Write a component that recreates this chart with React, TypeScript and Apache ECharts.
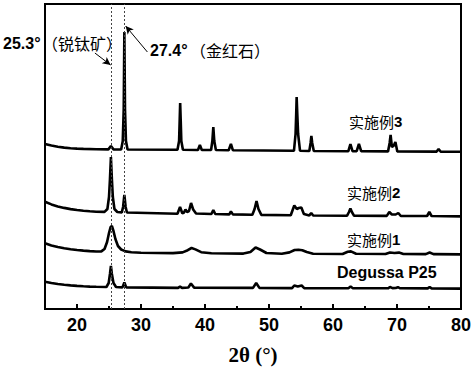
import React, { useEffect, useRef } from "react";
import * as echarts from "echarts";

const xMajorTicks = [20, 30, 40, 50, 60, 70, 80];
const xMinorTicks = [15, 25, 35, 45, 55, 65, 75];
const refLines = [25.3, 27.4];

// 实施例3
const sample3: number[][] = [
  [15, 165], [16, 163.5], [17, 162.3], [18, 161.4], [19, 160.8], [20, 160.4], [21, 160.1], [23, 159.8],
  [24.9, 159.6], [25.3, 163], [25.7, 159.6], [26.9, 159.5], [27.15, 168], [27.3, 200], [27.4, 277], [27.5, 200],
  [27.65, 168], [27.9, 159.5], [35.7, 159.2], [35.95, 168], [36.05, 190], [36.12, 206], [36.2, 190], [36.3, 168],
  [36.55, 159.2], [38.9, 159], [39.2, 164], [39.5, 159], [40.95, 159], [41.15, 168], [41.3, 182], [41.45, 168],
  [41.7, 159], [43.7, 158.8], [44.05, 165], [44.35, 158.8], [53.9, 158.2], [54.15, 175], [54.25, 195], [54.32, 212],
  [54.42, 195], [54.55, 175], [54.85, 158.2], [56.3, 158], [56.5, 166], [56.62, 173], [56.75, 166], [57.0, 158],
  [62.4, 157.8], [62.72, 165], [63.05, 157.8], [63.7, 157.8], [64.05, 165], [64.4, 157.8], [68.6, 157.6], [68.85, 166],
  [69.0, 174], [69.2, 162], [69.45, 163], [69.75, 167], [70.05, 157.6], [76.2, 157.4], [76.5, 160], [76.8, 157.4],
  [80, 157.2],
];

// 实施例2
const sample2: number[][] = [
  [15, 107.3], [16, 104.6], [17, 102.6], [18, 101.1], [19, 99.9], [20, 99.0], [21, 98.3], [22, 97.7],
  [23, 97.3], [24.3, 97.1], [24.75, 100], [25.0, 112], [25.15, 130], [25.3, 152], [25.45, 130], [25.6, 112],
  [25.85, 100], [26.3, 97], [27.0, 96.6], [27.2, 102], [27.4, 114], [27.6, 102], [27.8, 96.5], [35.7, 95.2],
  [36.1, 102], [36.45, 95.8], [36.7, 96.3], [36.95, 99.5], [37.2, 97], [37.5, 98], [37.82, 106], [38.15, 99.5],
  [38.6, 95.5], [41.0, 95], [41.3, 99], [41.6, 95], [43.8, 94.6], [44.05, 97.5], [44.35, 94.6], [47.4, 94.2],
  [47.75, 100], [48.05, 108], [48.35, 100], [48.8, 94.1], [53.4, 93.8], [53.75, 100], [53.95, 103.5], [54.35, 100],
  [54.65, 101], [55.05, 101.5], [55.45, 95], [56.3, 93.6], [56.6, 96], [56.9, 93.5], [62.2, 93.3], [62.5, 97],
  [62.72, 100.5], [62.95, 97], [63.3, 93.2], [68.4, 93.1], [68.8, 97], [69.2, 94.5], [69.8, 94.5], [70.2, 96],
  [70.6, 93], [74.7, 93], [75.05, 97], [75.4, 93], [80, 92.6],
];

// 实施例1
const sample1: number[][] = [
  [15, 65.7], [16, 63.6], [17, 62.0], [18, 60.8], [19, 59.8], [20, 59.0], [21, 58.4], [22, 57.9],
  [23, 57.5], [23.8, 57.6], [24.3, 60], [24.7, 67], [25.0, 76], [25.25, 82], [25.45, 83], [25.7, 78],
  [26.0, 70], [26.4, 63], [26.9, 59.5], [27.6, 57.6], [28.5, 56.7], [30, 56.2], [35, 55.9], [36.5, 56.6],
  [37.3, 58.8], [37.9, 61], [38.5, 59.6], [39.4, 56.8], [41, 55.7], [46, 55.4], [47.1, 57], [47.9, 61.5],
  [48.6, 59.5], [49.6, 56], [52, 55.3], [53.2, 56.6], [54.0, 59], [54.6, 59.3], [55.2, 58.8], [55.9, 57],
  [56.9, 55.3], [61.5, 55], [62.3, 57.3], [62.8, 57.6], [63.6, 55.3], [68.2, 55], [68.9, 56.5], [69.6, 56],
  [70.3, 56.4], [71.0, 55], [74.5, 54.9], [75.1, 56.5], [75.7, 54.9], [80, 54.6],
];

// Degussa P25
const p25: number[][] = [
  [15, 27.3], [16, 26.0], [17, 25.0], [18, 24.2], [19, 23.6], [20, 23.1], [21, 22.7], [22, 22.4],
  [23, 22.2], [24.6, 22.0], [24.95, 26], [25.15, 35], [25.3, 43], [25.45, 35], [25.7, 26], [26.1, 22],
  [27.1, 21.6], [27.4, 26.5], [27.7, 21.6], [35.8, 21.1], [36.1, 22.5], [36.4, 21.1], [37.4, 21.5], [37.8, 25.5],
  [38.3, 21.4], [47.5, 21.1], [48.0, 26], [48.5, 21.1], [53.6, 20.9], [53.95, 23.5], [54.5, 22.5], [55.1, 23.5],
  [55.5, 20.9], [62.4, 20.8], [62.75, 22.5], [63.1, 20.8], [68.6, 20.7], [68.9, 22], [69.3, 20.9], [69.8, 21],
  [70.15, 21.8], [70.5, 20.7], [74.8, 20.6], [75.1, 22], [75.4, 20.6], [80, 20.4],
];

// annotation arrows: [start, end] in (2θ, intensity)
const arrow253: number[][] = [[22.8, 256], [25.25, 244]];
const arrow274: number[][] = [[31.0, 257], [27.6, 283]];

const SANS = 'Arial, "Liberation Sans", sans-serif';
const CJK = '"Noto Sans CJK SC", sans-serif';

export default function App() {
  const ref = useRef<HTMLDivElement>(null);
  useEffect(() => {
    if (!ref.current) return;
    const chart = echarts.init(ref.current, null, { renderer: "svg" });
    const lineSeries = (name: string, data: number[][]) => ({
      name,
      type: "line",
      data,
      symbol: "none",
      showSymbol: false,
      lineStyle: { color: "#000", width: 2.6 },
      itemStyle: { color: "#000" },
      z: 3,
    });
    const s3: any = lineSeries("实施例3", sample3);
    s3.markLine = {
      silent: true,
      symbol: "none",
      label: { show: false },
      lineStyle: { color: "#444", width: 1, type: [2, 2] },
      data: refLines.map((v) => ({ xAxis: v })),
    };
    const s2: any = lineSeries("实施例2", sample2);
    s2.markLine = {
      silent: true,
      symbol: ["none", "arrow"],
      symbolSize: [6, 8],
      label: { show: false },
      lineStyle: { color: "#000", width: 1, type: "solid" },
      data: [
        [{ coord: arrow253[0] }, { coord: arrow253[1] }],
        [{ coord: arrow274[0] }, { coord: arrow274[1] }],
      ],
    };
    const cjkRich = {
      c: { font: `15px ${CJK}`, fill: "#000" },
      d: { font: `bold 15px ${SANS}`, fill: "#000" },
    };
    chart.setOption({
      animation: false,
      grid: {
        left: 45,
        right: 13,
        top: 4,
        bottom: 62,
        show: true,
        borderColor: "#000",
        borderWidth: 2,
        backgroundColor: "transparent",
        containLabel: false,
        outerBoundsMode: "none",
      },
      xAxis: [
        {
          type: "value",
          min: 15,
          max: 80,
          position: "bottom",
          axisLine: { show: false },
          splitLine: { show: false },
          axisTick: {
            inside: true,
            length: 5,
            customValues: xMajorTicks,
            lineStyle: { color: "#000", width: 2 },
          },
          axisLabel: {
            customValues: xMajorTicks,
            color: "#000",
            fontWeight: "bold",
            fontSize: 18,
            fontFamily: SANS,
            margin: 7,
          },
          name: "2θ (°)",
          nameLocation: "middle",
          nameGap: 35,
          nameTextStyle: {
            color: "#000",
            fontWeight: "bold",
            fontSize: 21,
            fontFamily: '"Times New Roman", "Liberation Serif", serif',
          },
        },
        {
          type: "value",
          min: 15,
          max: 80,
          position: "bottom",
          axisLine: { show: false },
          splitLine: { show: false },
          axisLabel: { show: false },
          axisTick: {
            inside: true,
            length: 3,
            customValues: xMinorTicks,
            lineStyle: { color: "#000", width: 2 },
          },
        },
      ],
      yAxis: { type: "value", min: 0, max: 305, show: false },
      series: [s3, s2, lineSeries("实施例1", sample1), lineSeries("Degussa P25", p25)],
      graphic: [
        { type: "text", x: 3, y: 43, z: 10, style: { text: "25.3°", font: `bold 16px ${SANS}`, fill: "#000", verticalAlign: "middle" } },
        { type: "text", x: 42, y: 43, z: 10, style: { text: "（锐钛矿）", font: `16px ${CJK}`, fill: "#000", verticalAlign: "middle" } },
        { type: "text", x: 150, y: 50, z: 10, style: { text: "27.4°", font: `bold 16px ${SANS}`, fill: "#000", verticalAlign: "middle" } },
        { type: "text", x: 190, y: 50, z: 10, style: { text: "（金红石）", font: `16px ${CJK}`, fill: "#000", verticalAlign: "middle" } },
        { type: "text", x: 349, y: 121, z: 10, style: { text: "{c|实施例}{d|3}", rich: cjkRich, verticalAlign: "middle" } },
        { type: "text", x: 347, y: 192, z: 10, style: { text: "{c|实施例}{d|2}", rich: cjkRich, verticalAlign: "middle" } },
        { type: "text", x: 347, y: 239, z: 10, style: { text: "{c|实施例}{d|1}", rich: cjkRich, verticalAlign: "middle" } },
        { type: "text", x: 337, y: 272, z: 10, style: { text: "Degussa P25", font: `bold 16px ${SANS}`, fill: "#000", verticalAlign: "middle" } },
      ],
    });
    return () => chart.dispose();
  }, []);
  return (
    <div
      ref={ref}
      style={{ position: "absolute", left: 0, top: 0, width: 474, height: 371, background: "#fff" }}
    />
  );
}
